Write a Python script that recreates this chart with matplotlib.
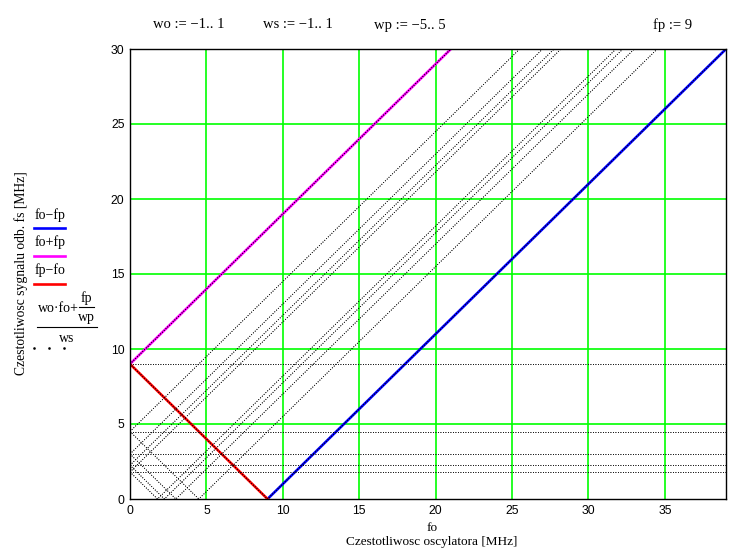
import numpy as np
import matplotlib
matplotlib.use("Agg")
import matplotlib.pyplot as plt
from matplotlib.lines import Line2D

fp = 9                          # fp := 9
wo = [-1, 0, 1]                 # wo := -1..1
ws = [-1, 1]                    # ws := -1..1 (0 gives no trace)
wp = [-5, -4, -3, -2, -1, 1, 2, 3, 4, 5]   # wp := -5..5 (0 gives no trace)
fo = np.array([0.0, 39.0])      # oscillator frequency range [MHz]

xticks = [0, 5, 10, 15, 20, 25, 30, 35]
yticks = [0, 5, 10, 15, 20, 25, 30]

W, H = 755, 558
fig = plt.figure(figsize=(W / 100, H / 100), dpi=100)
ax = fig.add_axes([130 / W, 1 - 499 / H, (726 - 130) / W, (499 - 49) / H])

serif = "Liberation Serif"

# grid
for x in xticks[1:]:
    ax.axvline(x, color="#00ff00", lw=1.2, zorder=1)
for y in yticks[1:-1]:
    ax.axhline(y, color="#00ff00", lw=1.2, zorder=1)

# main traces
ax.plot(fo, fo - fp, color="#0000ff", lw=1.9, zorder=3)
ax.plot(fo, fo + fp, color="#ff00ff", lw=1.9, zorder=3)
ax.plot(fo, fp - fo, color="#ff0000", lw=1.9, zorder=3)

# (wo*fo + fp/wp)/ws family
for a in wo:
    for s in ws:
        for p in wp:
            ax.plot(fo, (a * fo + fp / p) / s, color="black", lw=0.6,
                    linestyle=(0, (1, 2)), zorder=4)

ax.set_xlim(0, 39)
ax.set_ylim(0, 30)
ax.set_xticks(xticks)
ax.set_yticks(yticks)
ax.tick_params(length=0, pad=4, labelsize=8.8)
for lab in ax.get_xticklabels() + ax.get_yticklabels():
    lab.set_fontfamily("Liberation Sans")
for sp in ax.spines.values():
    sp.set_linewidth(1.0)
    sp.set_zorder(5)

def ftext(x, y, s, **kw):
    kw.setdefault("family", serif)
    kw.setdefault("fontsize", 10)
    fig.text(x / W, 1 - y / H, s, va="center", **kw)

def fline(x0, x1, y, **kw):
    fig.add_artist(Line2D([x0 / W, x1 / W], [1 - y / H, 1 - y / H],
                          transform=fig.transFigure, **kw))

# header
ftext(153, 25, "wo := \u22121.. 1", fontsize=10.5)
ftext(263, 25, "ws := \u22121.. 1", fontsize=10.5)
ftext(374, 25, "wp := \u22125.. 5", fontsize=10.5)
ftext(653, 25, "fp := 9", fontsize=10.5)

# axis labels
ftext(432, 528, "fo", ha="center", fontsize=9.5)
ftext(432, 542, "Czestotliwosc oscylatora [MHz]", ha="center", fontsize=9.5)
fig.text(21 / W, 1 - 273 / H, "Czestotliwosc sygnalu odb. fs [MHz]",
         rotation=90, ha="center", va="center", family=serif, fontsize=9.8)

# legend
ftext(35, 215, "fo\u2212fp")
fline(34, 65, 228, color="#0000ff", lw=1.9)
ftext(35, 242, "fo+fp")
fline(34, 65, 256, color="#ff00ff", lw=1.9)
ftext(35, 270, "fp\u2212fo")
fline(34, 65, 284, color="#ff0000", lw=1.9)
ftext(38, 308, "wo\u00b7fo+")
ftext(86.5, 298, "fp", ha="center")
fline(79, 94, 307, color="black", lw=0.8)
ftext(86.5, 318, "wp", ha="center")
fline(37, 97, 327, color="black", lw=0.8)
ftext(67, 338, "ws", ha="center")
fig.add_artist(Line2D([34 / W, 49 / W, 64 / W], [1 - 348 / H] * 3,
                      transform=fig.transFigure, lw=0, marker="s",
                      markersize=0.8, color="black"))

fig.savefig("out.png", dpi=100)
